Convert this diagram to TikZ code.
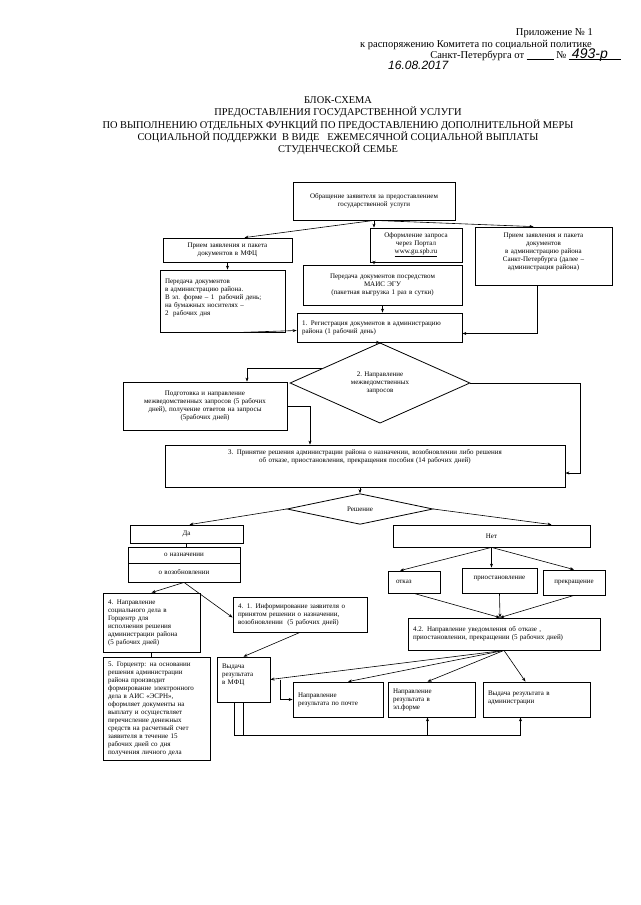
\documentclass[tikz,border=0pt]{standalone}
\usepackage{fontspec}
\setmainfont{Liberation Serif}
\newfontfamily\hand{Liberation Sans}
\usetikzlibrary{arrows.meta,shapes.geometric,calc}

\tikzset{
  blk/.style={draw,line width=0.8pt,inner sep=3pt,align=center,font=\fontsize{7}{8}\selectfont},
  lblk/.style={blk,align=left,inner xsep=5pt},
  rmb/.style={draw,diamond,line width=0.8pt,inner sep=0pt,align=center,font=\fontsize{7}{8}\selectfont},
  hdr/.style={anchor=base east,inner sep=0pt,font=\fontsize{10.5}{12}\selectfont},
  arr/.style={-{Stealth[length=4pt,width=3pt]},line width=0.6pt},
  ln/.style={line width=0.6pt}
}

\begin{document}
\begin{tikzpicture}[x=1pt,y=-1pt]
\useasboundingbox[fill=white] (0,0) rectangle (640,905);

\node[hdr] (pril) at (593,35) {Приложение № 1};
\node[hdr] (rasp) at (592,47) {к распоряжению Комитета по социальной политике};
\node[hdr] (spb) at (608,58) {Санкт-Петербурга от \rule[-1pt]{27pt}{0.4pt} № \rlap{\rule[-1pt]{52pt}{0.4pt}}\hspace{3pt}{\hand\itshape\fontsize{14}{14}\selectfont 493-р}\hspace{2pt}};
\node[anchor=base west,inner sep=0pt,font=\hand\itshape\fontsize{12}{12}\selectfont] (data) at (388,69) {16.08.2017};

\node[inner sep=0pt,anchor=north,align=center,font=\fontsize{10.4}{12.3}\selectfont] (titl) at (338,96.5)
  {БЛОК-СХЕМА\\ПРЕДОСТАВЛЕНИЯ ГОСУДАРСТВЕННОЙ УСЛУГИ\\ПО ВЫПОЛНЕНИЮ ОТДЕЛЬНЫХ ФУНКЦИЙ ПО ПРЕДОСТАВЛЕНИЮ ДОПОЛНИТЕЛЬНОЙ МЕРЫ\\СОЦИАЛЬНОЙ ПОДДЕРЖКИ~ В ВИДЕ~~ ЕЖЕМЕСЯЧНОЙ СОЦИАЛЬНОЙ ВЫПЛАТЫ\\СТУДЕНЧЕСКОЙ СЕМЬЕ};

\node[blk,text width=156pt,minimum height=38pt] (zayav) at (374,201) {Обращение заявителя за предоставлением\\государственной услуги};
\node[blk,text width=123pt,minimum height=24pt] (mfc) at (227.5,250) {Прием заявления и пакета\\документов в МФЦ};
\node[blk,text width=86pt,minimum height=34pt] (portal) at (416,245) {Оформление запроса\\через Портал\\\underline{www.gu.spb.ru}};
\node[blk,text width=131pt,minimum height=58pt] (admpr) at (543.5,256) {Прием заявления и пакета\\документов\\в администрацию района\\Санкт-Петербурга (далее –\\администрация района)\rule[-10pt]{0pt}{10pt}};
\node[lblk,text width=115pt,minimum height=62pt] (peredmfc) at (222.5,301) {Передача документов\\в администрацию района.\\В эл. форме – 1~ рабочий день;\\на бумажных носителях –\\2~ рабочих дня\rule[-8pt]{0pt}{8pt}};
\node[blk,text width=153pt,minimum height=40pt] (mais) at (382.5,285) {Передача документов посредством\\МАИС ЭГУ\\(пакетная выгрузка 1 раз в сутки)};
\node[lblk,text width=155pt,minimum height=29pt] (reg) at (379.5,327.5) {1. Регистрация документов в администрацию\\района (1 рабочий день)};
\node[rmb,minimum width=180pt,minimum height=71pt] (mvz) at (380,383) {2. Направление\\межведомственных\\запросов};
\node[blk,text width=158pt,minimum height=48pt] (podg) at (205,406) {Подготовка и направление\\межведомственных запросов (5 рабочих\\дней), получение ответов на запросы\\(5рабочих дней)};
\node[blk,text width=394pt,minimum height=42pt] (resh) at (365,466) {3. Принятие решения администрации района о назначении, возобновлении либо решения\\об отказе, приостановления, прекращения пособия (14 рабочих дней)\rule[-20pt]{0pt}{20pt}};
\node[rmb,minimum width=146pt,minimum height=24pt] (rd) at (360,509) {Решение};

\node[blk,text width=107pt,minimum height=18pt] (da) at (186.5,534) {Да};
\node[blk,text width=106pt,minimum height=16pt] (naz) at (184,555) {о назначении};
\node[blk,text width=106pt,minimum height=19pt] (vozob) at (184,572.5) {о возобновлении};
\node[blk,text width=191pt,minimum height=22pt] (net) at (491.5,536) {Нет};
\node[lblk,text width=42pt,minimum height=22pt] (otkaz) at (414,582) {\hspace*{3pt}отказ};
\node[blk,text width=69pt,minimum height=25pt] (prios) at (499.5,580.5) {приостановление\rule[-5pt]{0pt}{5pt}};
\node[blk,text width=56pt,minimum height=25pt] (prekr) at (574,582.5) {прекращение};

\node[lblk,text width=87pt,minimum height=59pt] (gorc) at (151.5,622.5) {4. Направление\\социального дела в\\Горцентр для\\исполнения решения\\администрации района\\(5 рабочих дней)};
\node[lblk,text width=124pt,minimum height=35pt] (inf) at (300,614.5) {4. 1. Информирование заявителя о\\принятом решении о назначении,\\возобновлении~ (5 рабочих дней)};
\node[lblk,text width=182pt,minimum height=32pt] (uved) at (504,634) {4.2. Направление уведомления об отказе ,\\приостановлении, прекращении (5 рабочих дней)};
\node[lblk,text width=97pt,minimum height=103pt] (gorc5) at (156.5,708.5) {5. Горцентр: на основании\\решения администрации\\района производит\\формирование электронного\\дела в АИС «ЭСРН»,\\оформляет документы на\\выплату и осуществляет\\перечисление денежных\\средств на расчетный счет\\заявителя в течение 15\\рабочих дней со дня\\получения личного дела};
\node[lblk,text width=43pt,minimum height=45pt] (vmfc) at (243.5,679.5) {Выдача\\результата\\в МФЦ\rule[-10pt]{0pt}{10pt}};
\node[lblk,text width=80pt,minimum height=35pt] (pochta) at (338,699.5) {Направление\\результата по почте};
\node[lblk,text width=77pt,minimum height=35pt] (elf) at (431.5,699.5) {Направление\\результата в\\эл.форме};
\node[lblk,text width=97pt,minimum height=35pt] (vadm) at (536.5,699.5) {Выдача результата в\\администрации\rule[-5pt]{0pt}{5pt}};

\draw[arr] (zayav.south) -- ([xshift=17]mfc.north);
\draw[arr] (zayav.south) -- (zayav.south |- portal.north);
\draw[arr] (zayav.south) -- ([xshift=-10]admpr.north);
\draw[arr] (mfc.south) -- (mfc.south |- peredmfc.north);
\draw[arr] (zayav.south |- portal.south) -- (zayav.south |- mais.north);
\draw[arr] (mais.south) -- (mais.south |- reg.north);
\draw[arr] ([xshift=18]peredmfc.south) -- ([yshift=-3]reg.west);
\draw[arr] ([xshift=-6]admpr.south) |- ([yshift=-6]reg.east);
\draw[arr] (reg.south) -- (mvz.north);
\draw[arr] (mvz.166) -| ([xshift=42]podg.north);
\draw[arr] (podg.east) -| ([xshift=-55]resh.north);
\draw[arr] (mvz.east) -- ++(110,0) |- ([yshift=-7]resh.east);
\draw[arr] (resh.south -| rd.north) -- (rd.north);
\draw[arr] (rd.west) -- ([xshift=3]da.north);
\draw[arr] (rd.east) -- ([xshift=60]net.north);
\draw[ln] (da.south) -- (da.south |- naz.north);
\draw[arr] (vozob.south) -- (gorc.north);
\draw[arr] (vozob.south) -- ([yshift=-3]inf.west);
\draw[arr] (net.south) -- ([xshift=-14]otkaz.north);
\draw[arr] (net.south) -- (net.south |- prios.north);
\draw[arr] (net.south) -- (prekr.north);
\foreach \t in {otkaz,prios,prekr}
  \draw[arr] (\t.south) -- ([xshift=-4]uved.north);
\draw[arr] (inf.south) -- (vmfc.north);
\draw[ln] (gorc.south) -- (gorc.south |- gorc5.north);
\draw[arr] (uved.south) -- (vmfc.east);
\draw[arr] (uved.south) -- ([xshift=10]pochta.north);
\draw[arr] (uved.south) -- ([xshift=-4]elf.north);
\draw[arr] (uved.south) -- ([xshift=-11]vadm.north);
\draw[arr] ([xshift=10]vmfc.east) |- (pochta.west);
\coordinate (niz) at (0,735);
\coordinate (ea) at ([xshift=-4]elf.south);
\coordinate (va) at ([xshift=-16]vadm.south);
\draw[arr] ([xshift=-9]vmfc.south) |- (niz -| ea) -- (ea);
\draw[arr] (vmfc.south) |- (niz -| va) -- (va);
\end{tikzpicture}
\end{document}
